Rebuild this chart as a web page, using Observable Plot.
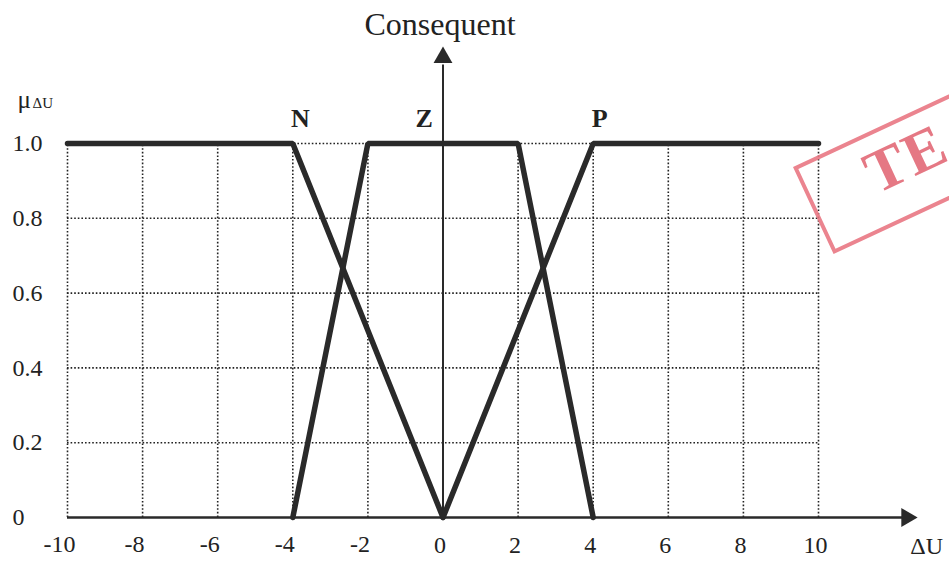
<!DOCTYPE html>
<html><head><meta charset="utf-8">
<script src="https://cdn.jsdelivr.net/npm/d3@7"></script>
<script src="https://cdn.jsdelivr.net/npm/@observablehq/plot@0.6"></script>
<style>
html,body{margin:0;padding:0;background:#fff;overflow:hidden;width:949px;height:563px;}
#wrap{position:relative;width:949px;height:563px;overflow:hidden;}
#stamp{position:absolute;left:793px;top:167px;width:280px;height:96px;border:4px solid #e97783;transform:rotate(-25deg);transform-origin:0 0;color:#e36a77;font-family:"Liberation Serif",serif;font-weight:bold;font-size:60px;line-height:60px;padding-left:60px;padding-top:6px;letter-spacing:2px;box-sizing:border-box;opacity:0.9;}
</style></head>
<body><div id="wrap"><div id="stamp">TE</div></div>
<script>
const xTicks = [-10, -8, -6, -4, -2, 0, 2, 4, 6, 8, 10];
const xTickLabels = ["-10", "-8", "-6", "-4", "-2", "0", "2", "4", "6", "8", "10"];
const yTicks = [0, 0.2, 0.4, 0.6, 0.8, 1.0];
const yTickLabels = ["0", "0.2", "0.4", "0.6", "0.8", "1.0"];
const setNames = ["N", "Z", "P"];
const setLabelX = [-3.8, -0.5, 4.17];
const nX = [-10, -4, 0], nY = [1, 1, 0];
const zX = [-4, -2, 2, 4], zY = [0, 1, 1, 0];
const pX = [0, 4, 10], pY = [0, 1, 1];
const yAxisTop = 1.23;
const xAxisEnd = 12.35;

const pts = (xs, ys) => xs.map((x, i) => ({x, y: ys[i]}));
const xMin = xTicks[0], xMax = xTicks[xTicks.length - 1];
const ink = "#2a2a2a";
const serif = "Liberation Serif, Times New Roman, serif";
const xLab = xTicks.map((v, i) => ({v, label: xTickLabels[i]}));

const chart = Plot.plot({
  width: 949, height: 563,
  x: {domain: [xMin, xMax], range: [67, 818], axis: null},
  y: {domain: [0, 1], range: [517, 143], axis: null},
  style: {fontFamily: serif, background: "transparent"},
  marks: [
    Plot.ruleX(xTicks.filter(d => d !== 0), {x: d => d, y1: () => 0, y2: () => 1, stroke: "#222", strokeWidth: 1.6, strokeDasharray: "1.6,2"}),
    Plot.ruleY(yTicks.filter(d => d !== 0), {y: d => d, x1: () => xMin, x2: () => xMax, stroke: "#222", strokeWidth: 1.6, strokeDasharray: "1.6,2"}),
    // axes
    Plot.ruleY([0], {x1: () => xMin, x2: () => xAxisEnd - 0.1, stroke: ink, strokeWidth: 2.5}),
    Plot.dot([0], {x: () => xAxisEnd, y: () => 0, symbol: "triangle", r: 7, fill: ink, stroke: "none", rotate: 90}),
    Plot.ruleX([0], {y1: () => 0, y2: () => yAxisTop - 0.02, stroke: ink, strokeWidth: 2}),
    Plot.dot([0], {x: () => 0, y: () => yAxisTop, symbol: "triangle", r: 7, fill: ink, stroke: "none"}),
    // membership functions
    Plot.line(pts(nX, nY), {x: "x", y: "y", stroke: ink, strokeWidth: 5.5, strokeLinejoin: "miter"}),
    Plot.line(pts(zX, zY), {x: "x", y: "y", stroke: ink, strokeWidth: 5.5, strokeLinejoin: "miter"}),
    Plot.line(pts(pX, pY), {x: "x", y: "y", stroke: ink, strokeWidth: 5.5, strokeLinejoin: "miter"}),
    // set labels
    Plot.text(setNames, {x: (d, i) => setLabelX[i], y: () => 1, text: d => d, dy: -25, fontSize: 26, fontWeight: "bold", fill: "#222"}),
    // tick labels
    Plot.text(xLab.filter(d => d.v < 0), {x: "v", y: () => 0, text: "label", dy: 27, dx: -8, fontSize: 24, fill: "#222"}),
    Plot.text(xLab.filter(d => d.v >= 0), {x: "v", y: () => 0, text: "label", dy: 28, dx: -3, fontSize: 24, fill: "#222"}),
    Plot.text(yTickLabels, {x: () => xMin, y: (d, i) => yTicks[i], text: d => d, dx: -55, textAnchor: "start", fontSize: 24, fill: "#222"}),
    // axis titles
    Plot.text(["Consequent"], {x: () => 0, y: () => yAxisTop, text: d => d, dy: -33, dx: -3, fontSize: 32, fill: "#222"}),
    Plot.text(["ΔU"], {x: () => xAxisEnd, y: () => 0, text: d => d, dx: 20, dy: 29, fontSize: 24, fill: "#222"}),
    Plot.text(["μ"], {x: () => xMin, y: () => 1, text: d => d, dx: -50, dy: -44, textAnchor: "start", fontSize: 25, fill: "#222"}),
    Plot.text(["ΔU"], {x: () => xMin, y: () => 1, text: d => d, dx: -35, dy: -40, textAnchor: "start", fontSize: 15, fill: "#222"})
  ]
});
chart.style.position = "absolute";
chart.style.left = "0";
chart.style.top = "0";
document.getElementById("wrap").prepend(chart);
</script>
</body></html>
